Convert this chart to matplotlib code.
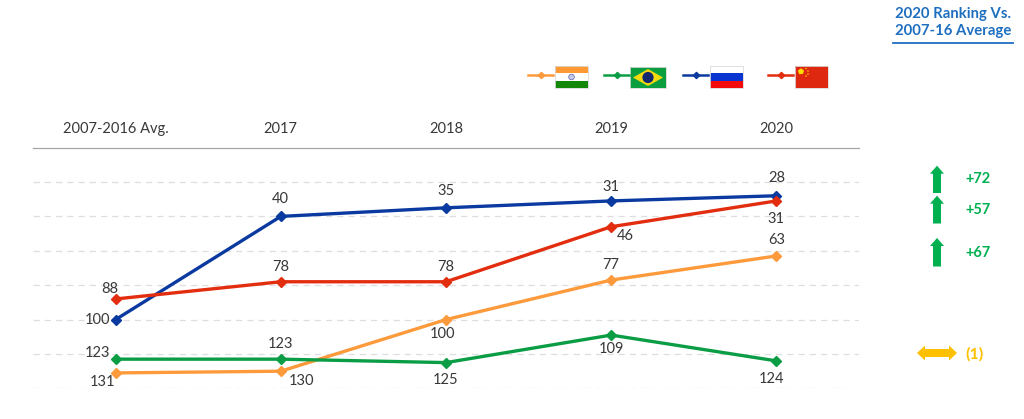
import matplotlib
matplotlib.use('Agg')
import matplotlib.pyplot as plt
from matplotlib.patches import Polygon, Rectangle, Circle, RegularPolygon

W = 1024
H = 419

years = ['2007-2016 Avg.', '2017', '2018', '2019', '2020']
india = [131, 130, 100, 77, 63]
brazil = [123, 123, 125, 109, 124]
russia = [100, 40, 35, 31, 28]
china = [88, 78, 78, 46, 31]
gridvals = [20, 40, 60, 80, 100, 120, 140]

changes = ['+72', '+57', '+67', '(1)']

orange = '#fd9a3c'
green = '#0b9d45'
blue = '#0a3aa0'
red = '#e22d0e'
arrow_green = '#00b050'
gold = '#ffc000'
head_blue = '#1f6fc0'
text_col = '#383838'

plt.rcParams['font.family'] = ['Lato', 'DejaVu Sans']

fig = plt.figure(figsize=(W / 100, H / 100), dpi=100)
ax = fig.add_axes([33 / W, 1 - 388.4 / H, 826 / W, (388.4 - 147.6) / H])
ax.set_xlim(-0.5, 4.5)
ax.set_ylim(140, 0)

for g in gridvals:
    ax.axhline(g, color='#dedede', lw=0.9, ls=(0, (5, 4)), zorder=1)

xs = list(range(len(years)))
for vals, c in [(india, orange), (brazil, green), (russia, blue), (china, red)]:
    ax.plot(xs, vals, color=c, lw=2.4, marker='D', ms=5, zorder=3)

# label offsets are in pixels from the point
offs = {
    'india': [(-13, -9), (21, -10), (-4, -14), (0, 15), (0, 16)],
    'brazil': [(-18, 6), (0, 15), (0, -17), (0, -14), (-5, -18)],
    'russia': [(-18, 0), (0, 17), (0, 17), (0, 14), (0, 18)],
    'china': [(-6, 10), (0, 15), (0, 15), (14, -9), (0, -18)],
}
for name, vals in [('india', india), ('brazil', brazil), ('russia', russia), ('china', china)]:
    for i, v in enumerate(vals):
        ax.annotate(str(v), (i, v), xytext=offs[name][i], textcoords='offset pixels',
                    ha='center', va='center', fontsize=10.5, color=text_col, zorder=4)

ax.xaxis.tick_top()
ax.set_xticks(xs)
ax.set_xticklabels(years, fontsize=10.5, color=text_col)
ax.tick_params(axis='x', length=0, pad=8)
ax.set_yticks([])
for s in ['left', 'right', 'bottom']:
    ax.spines[s].set_visible(False)
ax.spines['top'].set_color('#a6a6a6')
ax.spines['top'].set_linewidth(0.9)

# overlay in pixel coordinates for flags, arrows and header
ov = fig.add_axes([0, 0, 1, 1], facecolor='none')
ov.set_xlim(0, W)
ov.set_ylim(H, 0)
ov.axis('off')

ov.text(953, 14, '2020 Ranking Vs.', ha='center', va='center', fontsize=10.7, fontweight='bold', color=head_blue)
ov.text(953, 31, '2007-16 Average', ha='center', va='center', fontsize=10.7, fontweight='bold', color=head_blue)
ov.plot([893, 1013], [43, 43], color=head_blue, lw=1.3)

# legend keys
for x0, c in [(528, orange), (604, green), (683, blue), (768, red)]:
    ov.plot([x0, x0 + 25], [75.5, 75.5], color=c, lw=1.8)
    ov.plot([x0 + 12.5], [75.5], color=c, marker='D', ms=3.2)

edge = '#d9d9d9'
# India
ov.add_patch(Rectangle((555, 66), 33, 7.4, color='#ff9933', lw=0))
ov.add_patch(Rectangle((555, 73.4), 33, 7.3, color='white', lw=0))
ov.add_patch(Rectangle((555, 80.7), 33, 7.3, color='#138808', lw=0))
ov.add_patch(Circle((571.5, 77), 2.8, fc='#c5c9e6', ec='#5a5fa8', lw=0.5))
ov.add_patch(Rectangle((555, 66), 33, 22, fc='none', ec=edge, lw=0.6))
# Brazil
ov.add_patch(Rectangle((630, 67), 36, 21, color='#0a9e3f', lw=0))
ov.add_patch(Polygon([(633, 77.5), (648, 69), (663, 77.5), (648, 86)], color='#f7d90f', lw=0))
ov.add_patch(Circle((648, 77.5), 5.6, color='#14286f', lw=0))
ov.add_patch(Rectangle((630, 67), 36, 21, fc='none', ec=edge, lw=0.6))
# Russia
ov.add_patch(Rectangle((710, 66), 33, 7.4, color='white', lw=0))
ov.add_patch(Rectangle((710, 73.4), 33, 7.3, color='#0a35d0', lw=0))
ov.add_patch(Rectangle((710, 80.7), 33, 7.3, color='#f50a0a', lw=0))
ov.add_patch(Rectangle((710, 66), 33, 22, fc='none', ec=edge, lw=0.6))
# China
ov.add_patch(Rectangle((795, 66), 33, 22, color='#de2910', lw=0))
ov.add_patch(RegularPolygon((801, 71.5), 5, radius=3.2, color='#ffde00', lw=0, orientation=3.14159))
for sx, sy in [(806, 68.5), (808, 71), (808, 74), (806, 76)]:
    ov.add_patch(Circle((sx, sy), 0.7, color='#ffde00', lw=0))
ov.add_patch(Rectangle((795, 66), 33, 22, fc='none', ec=edge, lw=0.6))

# up arrows + change labels
for (top, bot, ty), lab in zip([(165.7, 193, 179), (195.7, 223.5, 210), (238, 266.5, 252.5)], changes[:3]):
    cx = 937
    ov.add_patch(Polygon([(cx, top), (cx + 7, top + 8), (cx + 4, top + 8), (cx + 4, bot),
                          (cx - 4, bot), (cx - 4, top + 8), (cx - 7, top + 8)], color=arrow_green, lw=0))
    ov.text(965, ty, lab, ha='left', va='center', fontsize=10.5, fontweight='bold', color=arrow_green)

# flat arrow for Brazil
ov.add_patch(Polygon([(917, 353), (925, 345.5), (925, 349), (949, 349), (949, 345.5), (957, 353),
                      (949, 360.5), (949, 357), (925, 357), (925, 360.5)], color=gold, lw=0))
ov.text(965, 354, changes[3], ha='left', va='center', fontsize=11.5, fontweight='bold', color=gold)

fig.savefig('out.png', dpi=100)
